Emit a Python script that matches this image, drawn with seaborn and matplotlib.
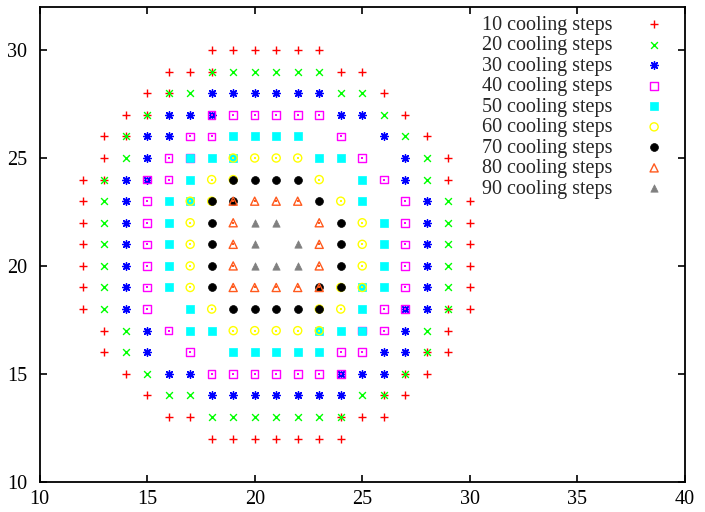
import pandas as pd
import seaborn as sns
import matplotlib.pyplot as plt

# rows of the lattice: y -> list of x, one dict per series
steps10 = {30: [18, 19, 20, 21, 22, 23], 29: [16, 17, 18, 24, 25], 28: [15, 16, 26],
           27: [14, 15, 27], 26: [13, 14, 28], 25: [13, 29], 24: [12, 13, 29],
           23: [12, 30], 22: [12, 30], 21: [12, 30], 20: [12, 30], 19: [12, 30],
           18: [12, 29, 30], 17: [13, 29], 16: [13, 28, 29], 15: [14, 27, 28],
           14: [15, 26, 27], 13: [16, 17, 24, 25, 26], 12: [18, 19, 20, 21, 22, 23, 24]}
steps20 = {29: [18, 19, 20, 21, 22, 23], 28: [16, 17, 24, 25], 27: [15, 26], 26: [14, 27],
           25: [14, 28], 24: [13, 28], 23: [13, 29], 22: [13, 29], 21: [13, 29],
           20: [13, 29], 19: [13, 29], 18: [13, 29], 17: [14, 28], 16: [14, 28],
           15: [15, 27], 14: [16, 17, 25, 26], 13: [18, 19, 20, 21, 22, 23, 24]}
steps30 = {28: [18, 19, 20, 21, 22, 23], 27: [16, 17, 18, 24, 25], 26: [15, 16, 26],
           25: [15, 27], 24: [14, 15, 27], 23: [14, 28], 22: [14, 28], 21: [14, 28],
           20: [14, 28], 19: [14, 28], 18: [14, 27, 28], 17: [15, 27], 16: [15, 26, 27],
           15: [16, 17, 24, 25, 26], 14: [18, 19, 20, 21, 22, 23, 24]}
steps40 = {27: [18, 19, 20, 21, 22, 23], 26: [17, 18, 24], 25: [16, 17, 25], 24: [15, 16, 26],
           23: [15, 27], 22: [15, 27], 21: [15, 27], 20: [15, 27], 19: [15, 27],
           18: [15, 26, 27], 17: [16, 25, 26], 16: [17, 24, 25],
           15: [18, 19, 20, 21, 22, 23, 24]}
steps50 = {26: [19, 20, 21, 22], 25: [17, 18, 19, 23, 24], 24: [17, 25], 23: [16, 17, 25],
           22: [16, 26], 21: [16, 26], 20: [16, 26], 19: [16, 25, 26], 18: [17, 25],
           17: [17, 18, 23, 24, 25], 16: [19, 20, 21, 22, 23]}
steps60 = {25: [19, 20, 21, 22], 24: [18, 19, 23], 23: [17, 18, 24], 22: [17, 25],
           21: [17, 25], 20: [17, 25], 19: [17, 24, 25], 18: [18, 23, 24],
           17: [19, 20, 21, 22, 23]}
steps70 = {24: [19, 20, 21, 22], 23: [18, 19, 23], 22: [18, 24], 21: [18, 24], 20: [18, 24],
           19: [18, 23, 24], 18: [19, 20, 21, 22, 23]}
steps80 = {23: [19, 20, 21, 22], 22: [19, 23], 21: [19, 23], 20: [19, 23],
           19: [19, 20, 21, 22, 23]}
steps90 = {22: [20, 21], 21: [20, 22], 20: [20, 21, 22]}

labels = ["10 cooling steps", "20 cooling steps", "30 cooling steps", "40 cooling steps",
          "50 cooling steps", "60 cooling steps", "70 cooling steps", "80 cooling steps",
          "90 cooling steps"]
series = [steps10, steps20, steps30, steps40, steps50, steps60, steps70, steps80, steps90]

rows = []
for lab, s in zip(labels, series):
    for y, xs in s.items():
        for x in xs:
            rows.append((lab, x, y))
df = pd.DataFrame(rows, columns=["series", "x", "y"])

# gnuplot-like point types
styles = [
    ("+", "#ff0000", "line", 30),
    ("x", "#00ff00", "line", 24),
    ((8, 2, 0), "#0000ff", "line", 30),
    ("s", "#ff00ff", "open", 30),
    ("s", "#00ffff", "fill", 30),
    ("o", "#ffff00", "open", 34),
    ("o", "#000000", "fill", 32),
    ("^", "#ff5a1e", "open", 34),
    ("^", "#808080", "fill", 28),
]

sns.set_style("ticks")
plt.rcParams["font.family"] = ["Liberation Serif", "DejaVu Serif"]

fig = plt.figure(figsize=(7.05, 5.12), dpi=100)
ax = fig.add_axes([0.0562, 0.0592, 0.9152, 0.9272])

for lab, (m, c, kind, sz) in zip(labels, styles):
    d = df[df["series"] == lab]
    if kind == "line":
        sns.scatterplot(data=d, x="x", y="y", ax=ax, marker=m, color=c, edgecolor=c,
                        s=sz, linewidth=1.0, label=lab)
    elif kind == "open":
        sns.scatterplot(data=d, x="x", y="y", ax=ax, marker=m, color=c, edgecolor=c,
                        facecolor="none", s=sz, linewidth=1.0, label=lab)
        sns.scatterplot(data=d, x="x", y="y", ax=ax, marker="s", color=c, edgecolor=c,
                        s=1.2, linewidth=0)
    else:
        sns.scatterplot(data=d, x="x", y="y", ax=ax, marker=m, color=c, edgecolor=c,
                        s=sz, linewidth=0.5, label=lab)

ax.set_xlim(10, 40)
ax.set_ylim(10, 32)
ax.set_xticks([10, 15, 20, 25, 30, 35, 40])
ax.set_yticks([10, 15, 20, 25, 30])
ax.set_xlabel("")
ax.set_ylabel("")
for sp in ax.spines.values():
    sp.set_visible(True)
    sp.set_linewidth(1.3)
    sp.set_color("black")
ax.tick_params(direction="in", length=5, width=1.2, top=True, right=True,
               labelsize=14.5, colors="black")
ax.tick_params(axis="x", pad=6)
ax.tick_params(axis="y", pad=9)

leg = ax.legend(loc="upper right", bbox_to_anchor=(0.968, 0.982), frameon=False,
                markerfirst=False, fontsize=14.5, handlelength=1.0, handletextpad=1.55,
                labelspacing=0.07, borderpad=0, borderaxespad=0, scatterpoints=1)

fig.savefig("out.png", dpi=100)
